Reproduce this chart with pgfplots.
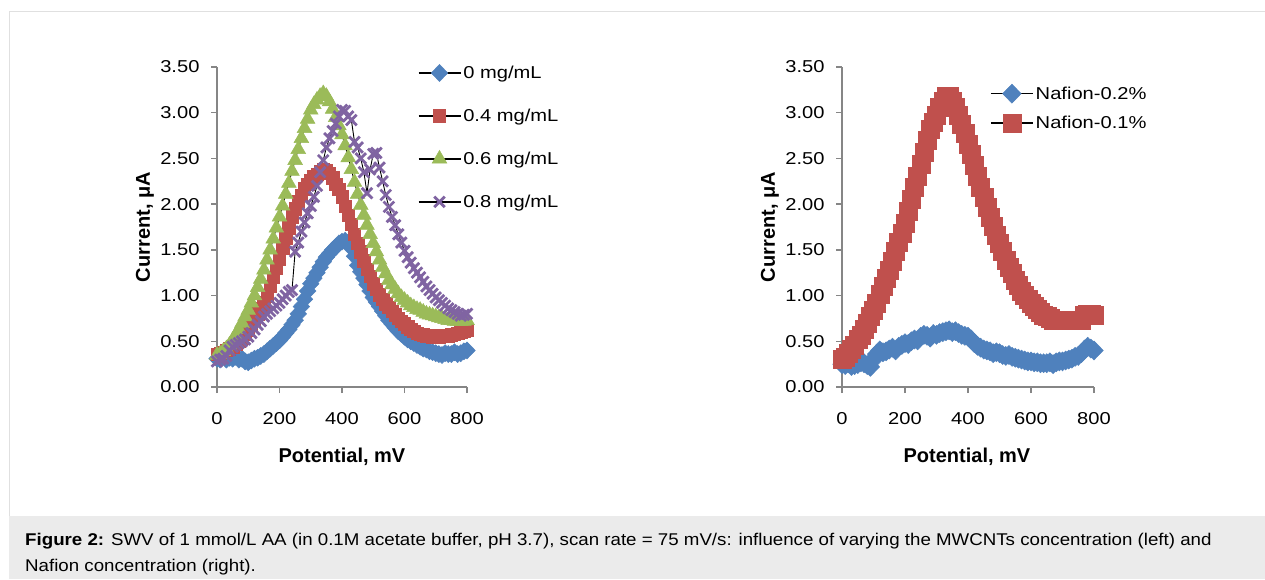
\documentclass[border=0pt]{standalone}
\usepackage{fontspec}
\setmainfont{Liberation Sans}
\newfontfamily\stretchfont[FakeStretch=1.17]{Liberation Sans}
\newfontfamily\capfont[FakeStretch=1.1]{Liberation Sans}
\usepackage{pgfplots}
\usepackage{pgfplotstable}
\pgfplotsset{compat=1.18}
\definecolor{sblue}{HTML}{4F81BD}
\definecolor{sred}{HTML}{C0504D}
\definecolor{sgreen}{HTML}{9BBB59}
\definecolor{spurple}{HTML}{8064A2}
\definecolor{axgray}{HTML}{868686}
\definecolor{capgray}{HTML}{EBEBEB}
\definecolor{bordergray}{HTML}{E0E0E0}
\newcommand\tickfont{\stretchfont\fontsize{17.2}{20}\selectfont}
\newcommand\labfont{\fontsize{20}{24}\selectfont\bfseries}

\pgfplotstableread{
x b0 b4 b6 b8
0 0.31 0.36 0.35 0.28
10 0.30 0.37 0.36 0.30
20 0.33 0.38 0.39 0.31
30 0.30 0.40 0.42 0.34
40 0.32 0.42 0.46 0.40
50 0.31 0.44 0.51 0.44
60 0.33 0.47 0.57 0.46
70 0.30 0.50 0.63 0.48
80 0.31 0.54 0.70 0.50
90 0.28 0.58 0.77 0.52
100 0.27 0.62 0.84 0.55
110 0.29 0.68 0.92 0.59
120 0.31 0.74 1.00 0.63
130 0.32 0.80 1.09 0.68
140 0.34 0.86 1.18 0.72
150 0.36 0.92 1.28 0.77
160 0.39 1.00 1.39 0.80
170 0.42 1.10 1.50 0.83
180 0.45 1.20 1.62 0.86
190 0.48 1.30 1.74 0.89
200 0.51 1.40 1.86 0.92
210 0.55 1.52 1.98 0.96
220 0.59 1.63 2.11 1.00
230 0.63 1.74 2.23 1.04
240 0.68 1.86 2.36 1.06
250 0.73 1.95 2.48 1.48
260 0.80 2.03 2.60 1.58
270 0.88 2.10 2.72 1.70
280 0.96 2.17 2.83 1.80
290 1.05 2.22 2.93 1.90
300 1.13 2.26 3.03 1.98
310 1.19 2.30 3.09 2.08
320 1.25 2.33 3.14 2.20
330 1.31 2.36 3.18 2.35
340 1.37 2.38 3.21 2.48
350 1.42 2.37 3.18 2.62
360 1.46 2.34 3.12 2.72
370 1.50 2.29 3.04 2.80
380 1.53 2.22 2.95 2.88
390 1.57 2.16 2.86 2.96
400 1.59 2.08 2.76 3.03
410 1.60 1.98 2.64 3.02
420 1.58 1.88 2.51 2.96
430 1.52 1.78 2.38 2.92
440 1.43 1.67 2.24 2.68
450 1.33 1.57 2.11 2.62
460 1.26 1.48 1.99 2.50
470 1.19 1.38 1.88 2.35
480 1.12 1.29 1.77 2.12
490 1.05 1.21 1.67 2.38
500 0.98 1.13 1.57 2.55
510 0.93 1.07 1.48 2.56
520 0.88 1.01 1.39 2.40
530 0.83 0.96 1.31 2.25
540 0.78 0.91 1.24 2.10
550 0.73 0.87 1.17 1.97
560 0.69 0.83 1.12 1.86
570 0.65 0.79 1.07 1.77
580 0.61 0.75 1.02 1.67
590 0.58 0.72 0.98 1.58
600 0.55 0.69 0.95 1.49
610 0.52 0.66 0.92 1.42
620 0.50 0.63 0.89 1.36
630 0.48 0.61 0.87 1.30
640 0.46 0.59 0.85 1.25
650 0.44 0.58 0.84 1.20
660 0.42 0.57 0.82 1.15
670 0.41 0.56 0.80 1.10
680 0.39 0.56 0.79 1.06
690 0.38 0.55 0.78 1.02
700 0.37 0.55 0.77 0.98
710 0.36 0.55 0.76 0.95
720 0.35 0.56 0.75 0.92
730 0.37 0.56 0.74 0.89
740 0.36 0.56 0.73 0.86
750 0.36 0.57 0.73 0.84
760 0.38 0.58 0.72 0.82
770 0.36 0.59 0.72 0.80
780 0.37 0.60 0.72 0.78
790 0.39 0.61 0.72 0.79
800 0.40 0.62 0.73 0.80
}\lefttable

\pgfplotstableread{
x n2 n1
0 0.25 0.30
10 0.24 0.33
20 0.26 0.37
30 0.23 0.41
40 0.24 0.46
50 0.25 0.52
60 0.27 0.57
70 0.26 0.63
80 0.24 0.70
90 0.22 0.77
100 0.30 0.84
110 0.36 0.92
120 0.40 1.01
130 0.38 1.10
140 0.39 1.19
150 0.41 1.28
160 0.43 1.38
170 0.40 1.48
180 0.44 1.58
190 0.46 1.68
200 0.48 1.79
210 0.47 1.92
220 0.50 2.05
230 0.52 2.18
240 0.51 2.31
250 0.55 2.44
260 0.57 2.57
270 0.56 2.70
280 0.54 2.82
290 0.58 2.90
300 0.57 2.97
310 0.59 3.06
320 0.60 3.13
330 0.61 3.18
340 0.62 3.18
350 0.60 3.13
360 0.61 3.06
370 0.59 2.97
380 0.57 2.87
390 0.56 2.77
400 0.55 2.66
410 0.52 2.55
420 0.48 2.43
430 0.45 2.31
440 0.43 2.19
450 0.41 2.08
460 0.40 1.97
470 0.39 1.86
480 0.37 1.76
490 0.38 1.66
500 0.37 1.57
510 0.35 1.48
520 0.34 1.39
530 0.35 1.31
540 0.33 1.24
550 0.32 1.17
560 0.31 1.11
570 0.30 1.05
580 0.29 1.00
590 0.28 0.96
600 0.28 0.92
610 0.27 0.88
620 0.27 0.85
630 0.26 0.82
640 0.26 0.79
650 0.26 0.77
660 0.27 0.75
670 0.25 0.73
680 0.27 0.73
690 0.28 0.73
700 0.28 0.73
710 0.29 0.73
720 0.30 0.73
730 0.31 0.73
740 0.33 0.73
750 0.34 0.73
760 0.37 0.73
770 0.41 0.78
780 0.44 0.80
790 0.42 0.80
800 0.40 0.78
}\righttable

\pgfplotsset{
  swvaxis/.style={
    scale only axis, clip=false,
    xmin=0, xmax=800, ymin=0, ymax=3.5,
    axis x line*=bottom, axis y line*=left,
    axis line style={axgray, line width=1.8pt},
    every tick/.style={axgray, line width=1.4pt},
    tick align=outside, major tick length=6pt,
    xtick={0,200,...,800}, ytick={0,0.5,...,3.5},
    ticklabel style={font=\tickfont, text=black},
    /pgf/number format/assume math mode=true,
    yticklabel style={/pgf/number format/.cd, fixed, fixed zerofill, precision=2, /tikz/.cd, xshift=-8pt},
    xticklabel style={yshift=-16pt},
    xlabel={Potential, mV}, ylabel={Current, μA},
    label style={font=\labfont},
    legend cell align=left,
    legend image code/.code={\draw[mark repeat=2,mark phase=2,#1,line width=1.6pt] plot coordinates {(0pt,0pt) (21pt,0pt) (42pt,0pt)};},
  },
  ser/.style n args={3}{black, line width=0.9pt, mark=#1, mark size=#2, mark options={solid, draw=#3, fill=#3, line width=0.5pt}},
  dia/.style n args={2}{black, line width=0.9pt, mark=diamond*, mark size=#1, mark options={solid, draw=#2, fill=#2, line width=0.5pt, xscale=1.3}},
}

\begin{document}
\begin{tikzpicture}[x=1pt,y=1pt]
\path[use as bounding box] (0,0) rectangle (1265,579);
\fill[white] (0,0) rectangle (1265,579);
\draw[bordergray, line width=1pt] (9,0) -- (9,567) -- (1265,567);
\fill[capgray] (9,0) rectangle (1265,63);
\node[anchor=base west, inner sep=0pt, font=\capfont\fontsize{17}{20}\selectfont] at (25,34) {\textbf{Figure 2:} SWV of 1 mmol/L AA (in 0.1M acetate buffer, pH 3.7), scan rate = 75 mV/s: influence of varying the MWCNTs concentration (left) and};
\node[anchor=base west, inner sep=0pt, font=\capfont\fontsize{17}{20}\selectfont] at (25,8) {Nafion concentration (right).};

\begin{axis}[swvaxis, at={(217pt,192pt)}, anchor=south west, width=250pt, height=320pt,
  xlabel style={at={(axis description cs:0.5,-0.219)}, anchor=center},
  ylabel style={at={(axis description cs:-0.288,0.5)}, anchor=center},
  legend style={draw=none, fill=none, font=\tickfont, at={(axis description cs:0.802,1.01)}, anchor=north west, inner sep=0pt, row sep=25pt}]
\addplot[dia={8.5pt}{sblue}] table[x=x,y=b0] {\lefttable};
\addlegendentry{0 mg/mL}
\addplot[ser={square*}{6.2pt}{sred}] table[x=x,y=b4] {\lefttable};
\addlegendentry{0.4 mg/mL}
\addplot[ser={triangle*}{8.5pt}{sgreen}] table[x=x,y=b6] {\lefttable};
\addlegendentry{0.6 mg/mL}
\addplot[black, line width=0.9pt, mark=x, mark size=7.5pt, mark options={solid, draw=spurple, line width=2.8pt}] table[x=x,y=b8] {\lefttable};
\addlegendentry{0.8 mg/mL}
\end{axis}

\begin{axis}[swvaxis, at={(842pt,192pt)}, anchor=south west, width=252pt, height=320pt,
  xlabel style={at={(axis description cs:0.496,-0.219)}, anchor=center},
  ylabel style={at={(axis description cs:-0.286,0.5)}, anchor=center},
  legend style={draw=none, fill=none, font=\tickfont, at={(axis description cs:0.587,0.947)}, anchor=north west, inner sep=0pt, row sep=11pt}]
\addplot[dia={9.5pt}{sblue}] table[x=x,y=n2] {\righttable};
\addlegendentry{Nafion-0.2\%}
\addplot[ser={square*}{9pt}{sred}] table[x=x,y=n1] {\righttable};
\addlegendentry{Nafion-0.1\%}
\end{axis}
\end{tikzpicture}
\end{document}
